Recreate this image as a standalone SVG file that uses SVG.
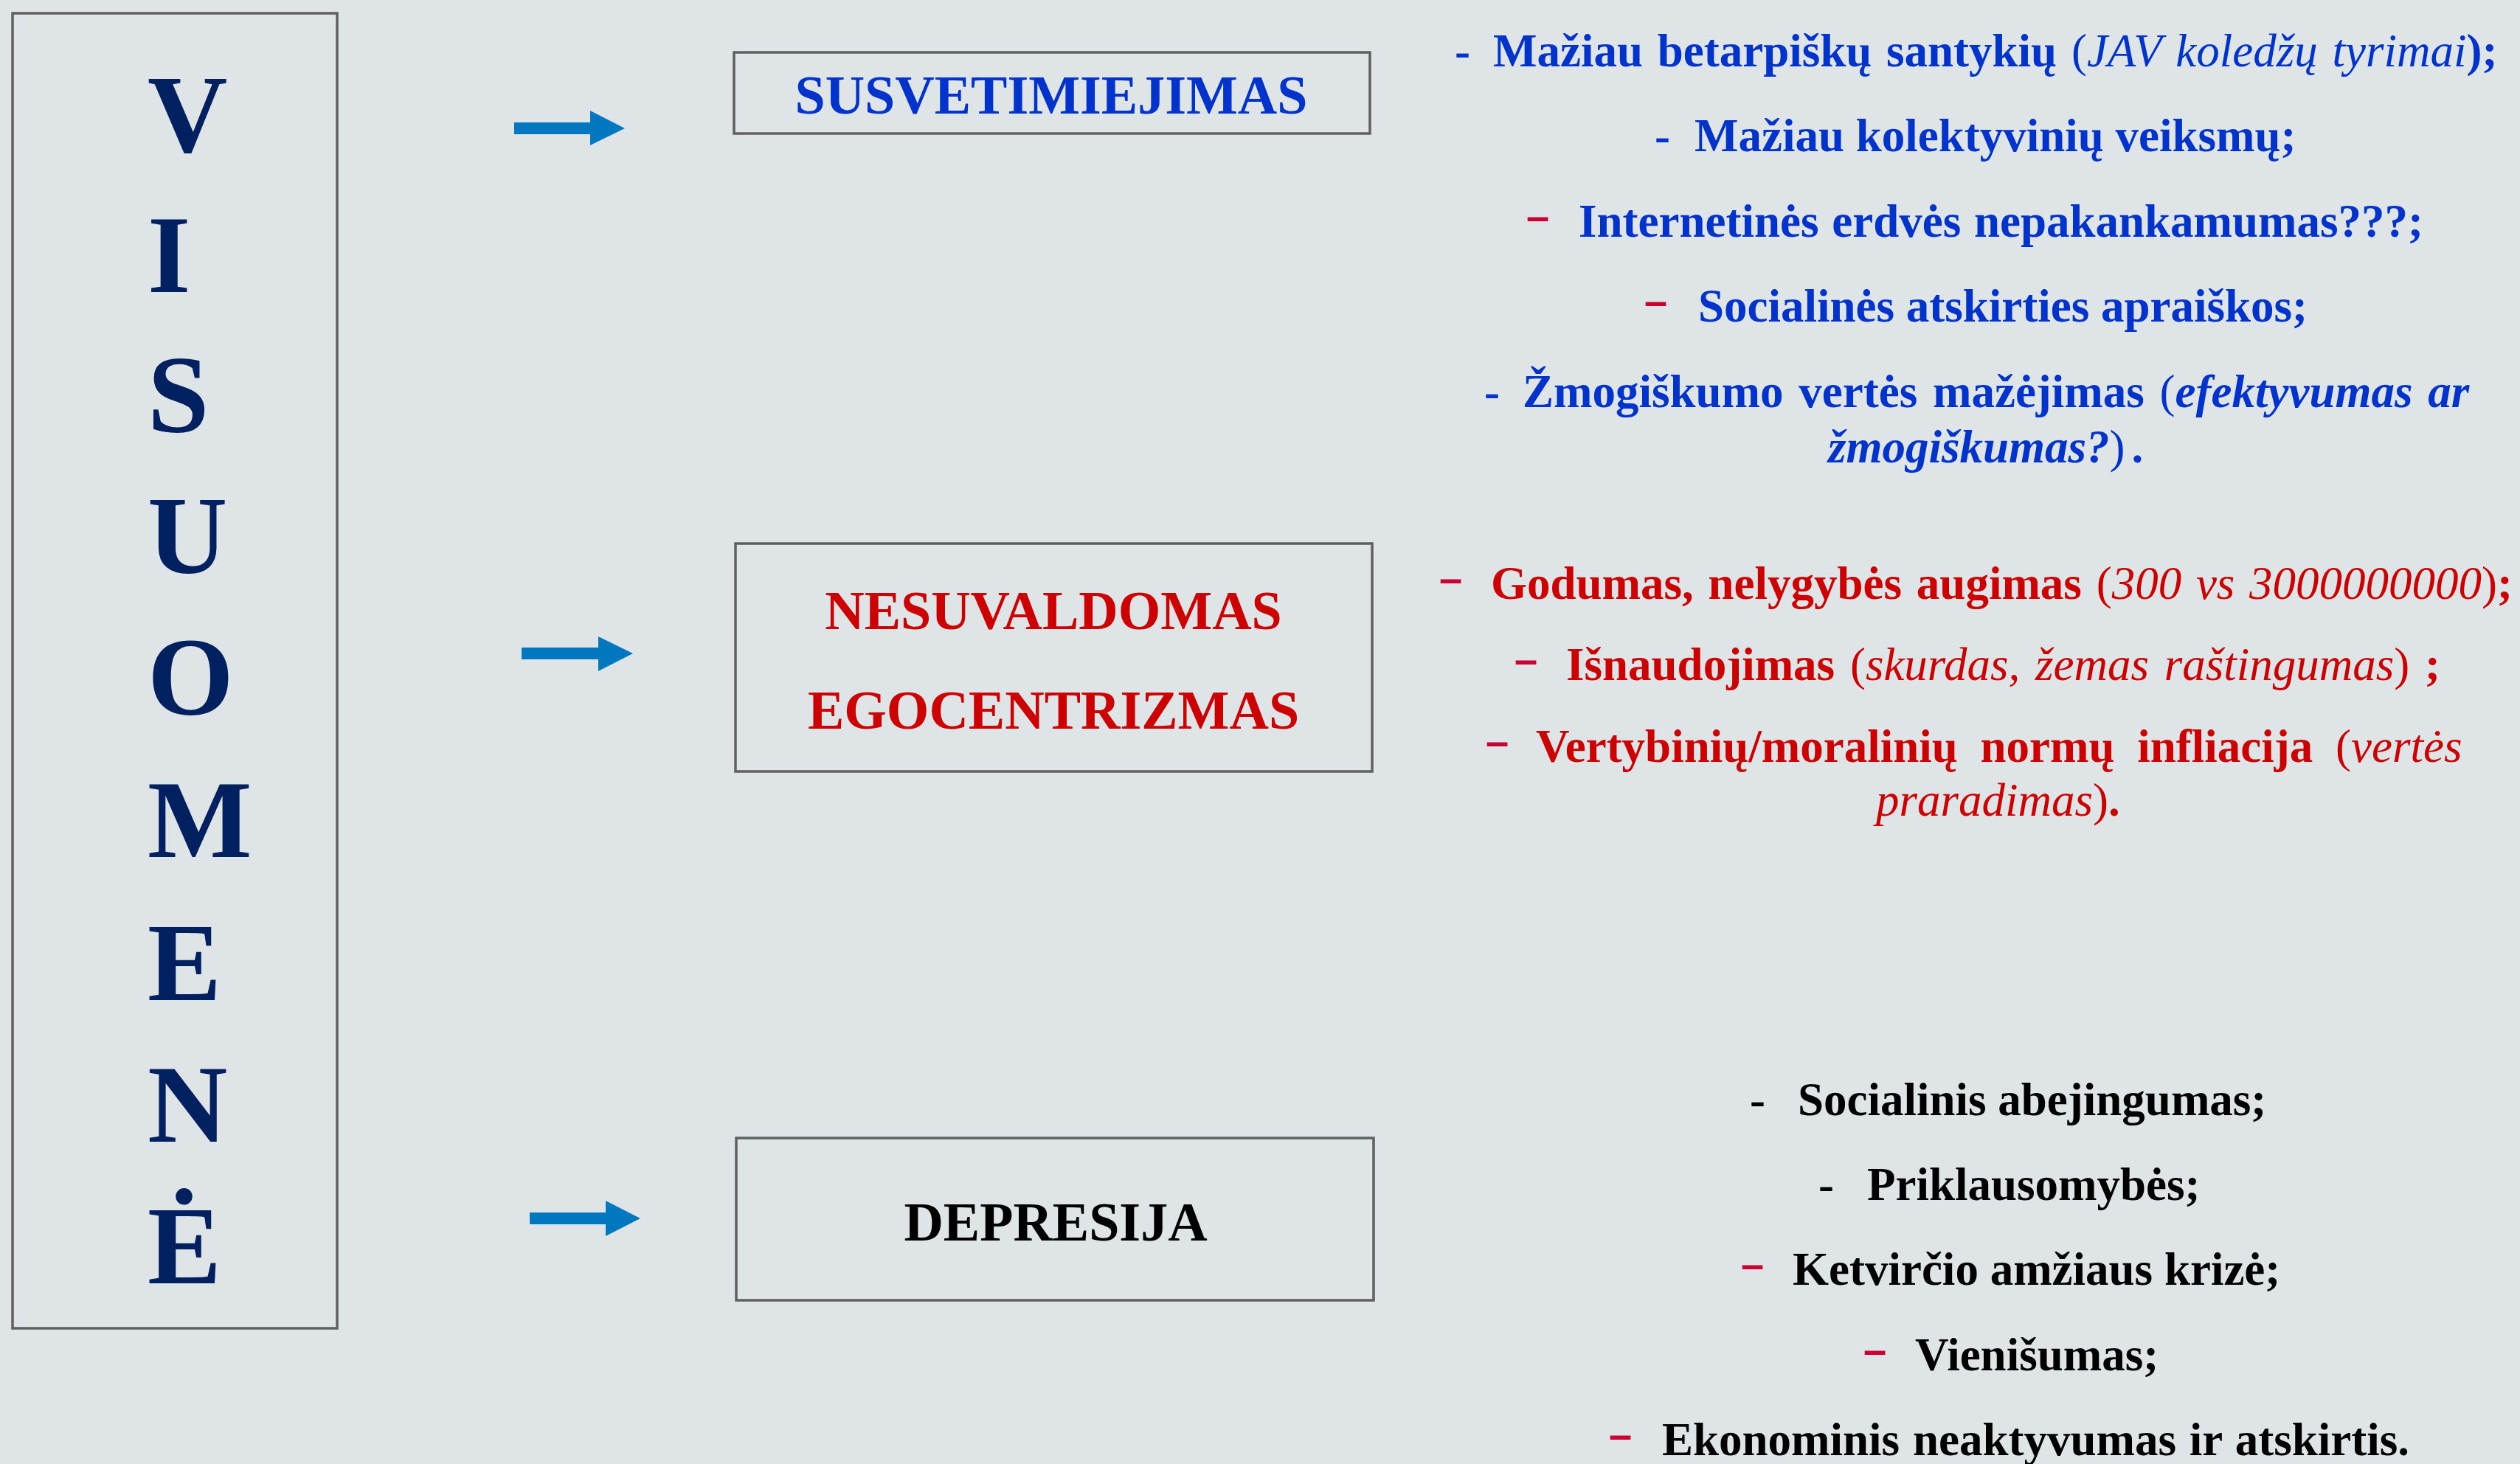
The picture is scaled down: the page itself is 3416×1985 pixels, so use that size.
<svg xmlns="http://www.w3.org/2000/svg" width="3416" height="1985" viewBox="0 0 3416 1985">
<defs>
<style>
.bg{fill:#DFE4E7}
.box{fill:none;stroke:#606060;stroke-width:3.5}
.big{font-family:"Liberation Serif","Times New Roman",serif;font-weight:bold;font-size:150px;fill:#002060}
.lbl{font-family:"Liberation Serif","Times New Roman",serif;font-weight:bold;font-size:74px;text-anchor:middle}
.t{font-family:"Liberation Serif","Times New Roman",serif;font-weight:bold;font-size:63px}
.d{font-family:"Liberation Sans",Arial,sans-serif;font-weight:bold;font-size:56px;fill:#CC0033}
.blue{fill:#0033CC}
.red{fill:#CC0000}
.blk{fill:#000000}
.i{font-style:italic;font-weight:normal}
.bi{font-style:italic;font-weight:bold}
.n{font-weight:normal}
.arrow{fill:#0077BE}
</style>
</defs>
<rect class="bg" x="0" y="0" width="3416" height="1985"/>

<g id="visuomene">
<rect class="box" x="17" y="18" width="440" height="1783"/>
<text class="big" x="200" y="206">V</text>
<text class="big" x="200" y="396">I</text>
<text class="big" x="200" y="586">S</text>
<text class="big" x="200" y="777">U</text>
<text class="big" x="200" y="969">O</text>
<text class="big" x="200" y="1162">M</text>
<text class="big" x="200" y="1356">E</text>
<text class="big" x="200" y="1548">N</text>
<text class="big" x="200" y="1740">Ė</text>
</g>

<g id="connectors">
<polygon class="arrow" points="697,166 800,166 800,150 847,174 800,197 800,182 697,182"/>
<polygon class="arrow" points="707,878 811,878 811,863 858,886 811,910 811,894 707,894"/>
<polygon class="arrow" points="718,1644 821,1644 821,1628 868,1652 821,1676 821,1660 718,1660"/>
</g>

<g id="susvetimiejimas">
<rect class="box" x="995" y="71" width="862" height="110"/>
<text class="lbl blue" x="1425" y="154">SUSVETIMIEJIMAS</text>
</g>

<g id="nesuvaldomas">
<rect class="box" x="997" y="737" width="863" height="309"/>
<text class="lbl red" x="1428" y="853">NESUVALDOMAS</text>
<text class="lbl red" x="1428" y="988">EGOCENTRIZMAS</text>
</g>

<g id="depresija">
<rect class="box" x="998" y="1543" width="864" height="220"/>
<text class="lbl blk" x="1431" y="1682">DEPRESIJA</text>
</g>

<g id="list-susvetimiejimas">
<text class="t blue" x="1972" y="90">-</text>
<text class="t blue" x="2024" y="90" word-spacing="4">Mažiau betarpiškų santykių <tspan class="n">(</tspan><tspan class="i">JAV koledžų tyrimai</tspan>);</text>
<text class="t blue" x="2243" y="205">-</text>
<text class="t blue" x="2297" y="205">Mažiau kolektyvinių veiksmų;</text>
<text class="d" x="2069" y="312">–</text>
<text class="t blue" x="2140" y="321" word-spacing="2">Internetinės erdvės nepakankamumas???;</text>
<text class="d" x="2229" y="427">–</text>
<text class="t blue" x="2302" y="436">Socialinės atskirties apraiškos;</text>
<text class="t blue" x="2012" y="552">-</text>
<text class="t blue" x="2064" y="552" word-spacing="5">Žmogiškumo vertės mažėjimas <tspan class="n">(</tspan><tspan class="bi">efektyvumas ar</tspan></text>
<text class="t blue" x="2478" y="627"><tspan class="bi">žmogiškumas?</tspan><tspan class="n">)</tspan><tspan dx="9">.</tspan></text>
</g>

<g id="list-egocentrizmas">
<text class="d" x="1951" y="803">–</text>
<text class="t red" x="2021" y="812" word-spacing="4">Godumas, nelygybės augimas <tspan class="n">(</tspan><tspan class="i">300 vs 3000000000</tspan><tspan class="n">)</tspan>;</text>
<text class="d" x="2053" y="913">–</text>
<text class="t red" x="2123" y="922" word-spacing="5">Išnaudojimas <tspan class="n">(</tspan><tspan class="i">skurdas, žemas raštingumas</tspan><tspan class="n">)</tspan> ;</text>
<text class="d" x="2014" y="1024">–</text>
<text class="t red" x="2082" y="1033" word-spacing="15">Vertybinių/moralinių normų infliacija <tspan class="n">(</tspan><tspan class="i">vertės</tspan></text>
<text class="t red" x="2543" y="1106"><tspan class="i">praradimas</tspan><tspan class="n">)</tspan>.</text>
</g>

<g id="list-depresija">
<text class="t blk" x="2372" y="1512">-</text>
<text class="t blk" x="2437" y="1512">Socialinis abejingumas;</text>
<text class="t blk" x="2465" y="1627">-</text>
<text class="t blk" x="2531" y="1627">Priklausomybės;</text>
<text class="d" x="2360" y="1733">–</text>
<text class="t blk" x="2430" y="1742">Ketvirčio amžiaus krizė;</text>
<text class="d" x="2526" y="1849">–</text>
<text class="t blk" x="2596" y="1858">Vienišumas;</text>
<text class="d" x="2181" y="1964">–</text>
<text class="t blk" x="2253" y="1973" word-spacing="2">Ekonominis neaktyvumas ir atskirtis.</text>
</g>
</svg>
